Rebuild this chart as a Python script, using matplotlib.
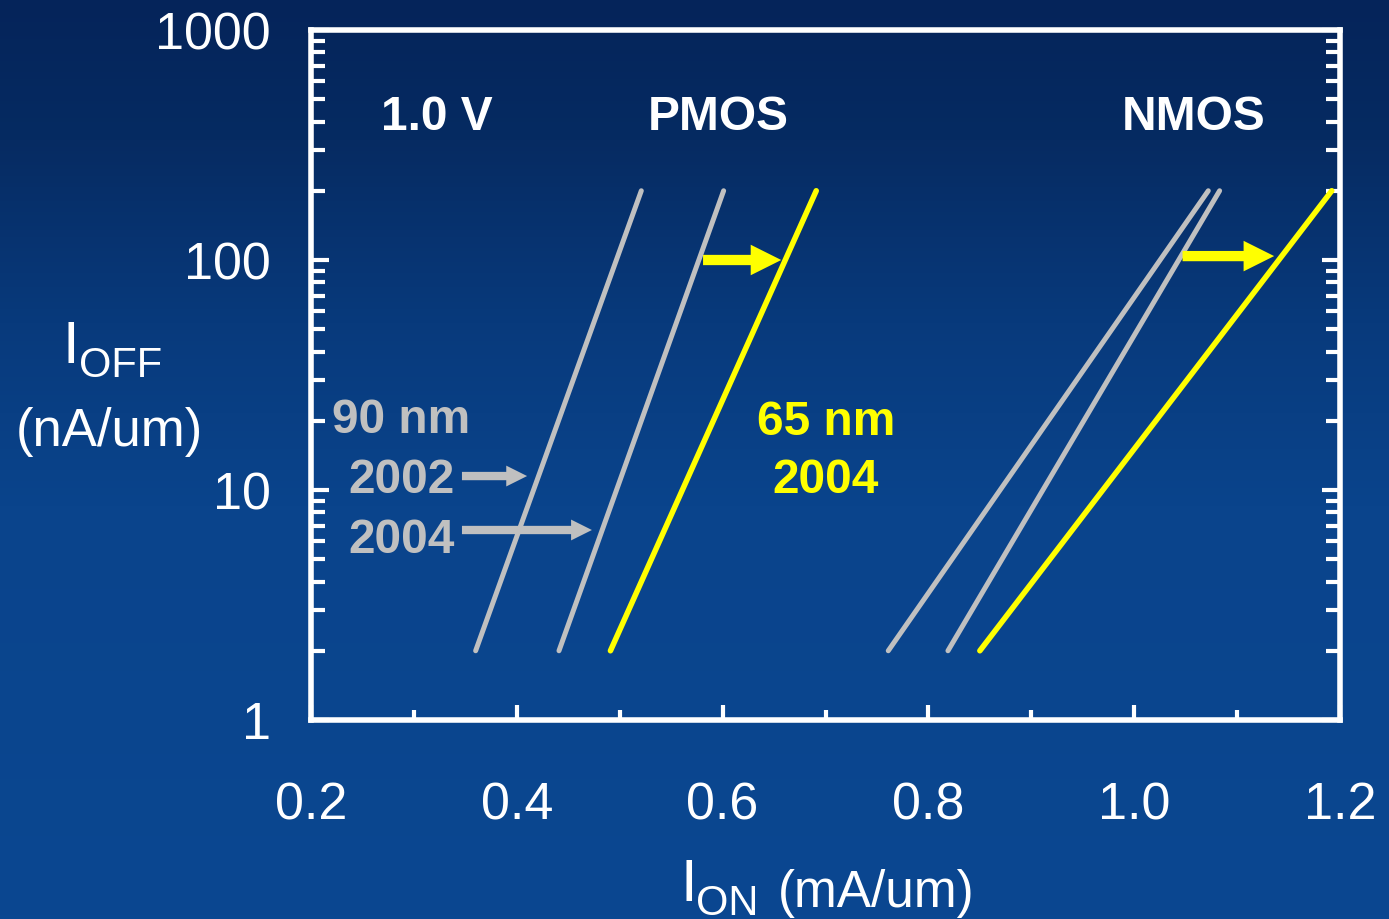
import numpy as np
import matplotlib
matplotlib.use("Agg")
import matplotlib.pyplot as plt
from matplotlib.colors import LinearSegmentedColormap

plt.rcParams['font.family'] = ['Liberation Sans', 'DejaVu Sans']

# I_OFF end points shared by all curves (nA/um)
ioff_ends = [2, 200]

# I_ON end points (mA/um)
pmos_90_2002 = [0.360, 0.521]
pmos_90_2004 = [0.441, 0.601]
pmos_65_2004 = [0.491, 0.691]
nmos_90_2002 = [0.761, 1.072]
nmos_90_2004 = [0.819, 1.083]
nmos_65_2004 = [0.850, 1.192]

xticks = [0.2, 0.4, 0.6, 0.8, 1.0, 1.2]
xtick_labels = ['0.2', '0.4', '0.6', '0.8', '1.0', '1.2']
yticks = [1, 10, 100, 1000]
ytick_labels = ['1', '10', '100', '1000']

GRAY = '#c0c0c0'
YELLOW = '#ffff00'
W, H = 1389, 919

fig = plt.figure(figsize=(W / 100, H / 100), dpi=100)

# background gradient, dark navy at top to blue at bottom
bg = fig.add_axes([0, 0, 1, 1], zorder=-5)
cmap = LinearSegmentedColormap.from_list('bg', [
    (0.0, '#05245a'), (0.15, '#062b62'), (0.35, '#083a7c'),
    (0.55, '#0a448c'), (1.0, '#0a4791')])
grad = np.linspace(0, 1, 256).reshape(-1, 1)
bg.imshow(grad, aspect='auto', cmap=cmap, extent=[0, 1, 0, 1], origin='upper')
bg.axis('off')

ax = fig.add_axes([311 / W, 1 - 720 / H, (1340 - 311) / W, (720 - 30) / H])
ax.set_facecolor('none')
ax.set_yscale('log')
ax.set_xlim(0.2, 1.2)
ax.set_ylim(1, 1000)

for xs, c, lw in [(pmos_90_2002, GRAY, 3.6), (pmos_90_2004, GRAY, 3.6),
                  (pmos_65_2004, YELLOW, 4.0), (nmos_90_2002, GRAY, 3.6),
                  (nmos_90_2004, GRAY, 3.6), (nmos_65_2004, YELLOW, 4.0)]:
    ax.plot(xs, ioff_ends, color=c, lw=lw, solid_capstyle='round')

for s in ax.spines.values():
    s.set_color('white')
    s.set_linewidth(4)

ax.set_xticks(xticks)
ax.set_xticklabels(xtick_labels)
ax.set_xticks(np.arange(0.3, 1.2, 0.2), minor=True)
ax.set_yticks(yticks)
ax.set_yticklabels(ytick_labels)
ax.tick_params(axis='both', which='both', direction='in', colors='white', width=3)
ax.tick_params(axis='x', which='major', length=11, pad=44, labelsize=37.5)
ax.tick_params(axis='x', which='minor', length=7.5)
ax.tick_params(axis='y', which='major', length=13, pad=29, labelsize=37.5, right=True)
ax.tick_params(axis='y', which='minor', length=10, right=True)
ax.yaxis.set_minor_formatter(matplotlib.ticker.NullFormatter())

# text annotations
bold = dict(fontsize=34.5, fontweight='bold', ha='center', va='baseline')
ax.text(0.3225, 367, '1.0 V', color='white', **bold)
ax.text(0.5955, 367, 'PMOS', color='white', **bold)
ax.text(1.058, 367, 'NMOS', color='white', **bold)
ax.text(0.288, 17.7, '90 nm', color=GRAY, **bold)
ax.text(0.2884, 9.7, '2002', color=GRAY, **bold)
ax.text(0.2884, 5.32, '2004', color=GRAY, **bold)
ax.text(0.7005, 17.4, '65 nm', color=YELLOW, **bold)
ax.text(0.7005, 9.7, '2004', color=YELLOW, **bold)

def arrow(x0, x1, y, color, tail, head):
    ax.annotate('', xy=(x1, y), xytext=(x0, y),
                arrowprops=dict(arrowstyle=f'simple,head_length={head},head_width={head},tail_width={tail}',
                                color=color, shrinkA=0, shrinkB=0, mutation_scale=1, lw=0),
                annotation_clip=False)

arrow(0.3467, 0.410, 11.5, GRAY, 6.0, 15)
arrow(0.3467, 0.473, 6.7, GRAY, 6.0, 15)
arrow(0.581, 0.657, 100, YELLOW, 7.4, 22)
arrow(1.047, 1.136, 104, YELLOW, 7.4, 22)

# axis titles with subscripts, placed in pixel positions
def ftext(px, py, s, size, **kw):
    fig.text(px / W, 1 - py / H, s, fontsize=size, color='white', va='baseline', **kw)

ftext(62, 363, 'I', 43)
ftext(79, 377, 'OFF', 30)
ftext(109, 446, '(nA/um)', 38, ha='center')
ftext(680, 901, 'I', 43)
ftext(696, 915, 'ON', 30)
ftext(778, 907, '(mA/um)', 37)

fig.savefig('out.png', dpi=100)
